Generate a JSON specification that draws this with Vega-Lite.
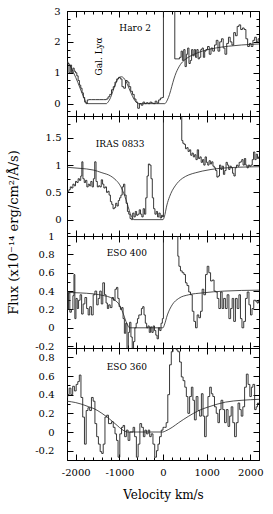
{
"$schema":"https://vega.github.io/schema/vega-lite/v6.json",
"padding":{"left":6,"top":5,"right":5,"bottom":5},
"background":"white",
"spacing":0,
"bounds":"flush",
"config":{"view":{"stroke":"black","strokeWidth":1},
"axis":{"grid":false,"domainColor":"black","tickColor":"black","labelColor":"black","labelFont":"DejaVu Serif","labelFontSize":10,"titleFont":"DejaVu Serif","titleFontSize":10,"titleFontWeight":"normal","titleColor":"black","labelOverlap":false,"labelFlush":false,"tickWidth":1,"domainWidth":1}},
"datasets":{
"p1":[{"v":-2200,"f":1.38},{"v":-2170,"f":1.3},{"v":-2140,"f":1.0},{"v":-2110,"f":1.25},{"v":-2080,"f":1.0},{"v":-2050,"f":1.15},{"v":-2020,"f":1.05},{"v":-1990,"f":1.0},{"v":-1960,"f":0.9},{"v":-1930,"f":0.75},{"v":-1900,"f":0.6},{"v":-1870,"f":0.5},{"v":-1840,"f":0.35},{"v":-1810,"f":0.2},{"v":-1780,"f":0.05},{"v":-1750,"f":0.0},{"v":-1720,"f":0.12},{"v":-1680,"f":0.13},{"v":-1600,"f":0.13},{"v":-1500,"f":0.13},{"v":-1400,"f":0.13},{"v":-1320,"f":0.13},{"v":-1280,"f":0.15},{"v":-1240,"f":0.22},{"v":-1200,"f":0.3},{"v":-1160,"f":0.45},{"v":-1120,"f":0.55},{"v":-1080,"f":0.7},{"v":-1040,"f":0.8},{"v":-1000,"f":0.85},{"v":-960,"f":0.8},{"v":-920,"f":0.55},{"v":-880,"f":0.5},{"v":-840,"f":0.75},{"v":-800,"f":0.7},{"v":-760,"f":0.55},{"v":-720,"f":0.4},{"v":-680,"f":0.3},{"v":-640,"f":0.15},{"v":-600,"f":0.05},{"v":-560,"f":-0.15},{"v":-520,"f":0.0},{"v":-480,"f":-0.05},{"v":-440,"f":0.05},{"v":-400,"f":0.0},{"v":-360,"f":0.03},{"v":-320,"f":0.0},{"v":-280,"f":0.05},{"v":-240,"f":0.02},{"v":-200,"f":0.0},{"v":-160,"f":0.08},{"v":-120,"f":0.02},{"v":-80,"f":0.12},{"v":-40,"f":0.18},{"v":0,"f":0.2},{"v":20,"f":3.6},{"v":260,"f":3.6},{"v":280,"f":1.45},{"v":320,"f":1.45},{"v":360,"f":1.45},{"v":400,"f":1.5},{"v":430,"f":1.7},{"v":460,"f":1.4},{"v":490,"f":1.75},{"v":520,"f":1.2},{"v":550,"f":1.6},{"v":580,"f":1.8},{"v":610,"f":1.3},{"v":640,"f":1.4},{"v":670,"f":1.75},{"v":700,"f":1.55},{"v":730,"f":1.75},{"v":760,"f":1.5},{"v":790,"f":1.75},{"v":820,"f":1.45},{"v":850,"f":1.5},{"v":880,"f":1.75},{"v":910,"f":1.8},{"v":940,"f":1.5},{"v":970,"f":1.7},{"v":1000,"f":1.75},{"v":1040,"f":1.85},{"v":1080,"f":1.6},{"v":1120,"f":1.8},{"v":1160,"f":1.7},{"v":1200,"f":1.9},{"v":1240,"f":2.05},{"v":1280,"f":1.7},{"v":1320,"f":2.0},{"v":1360,"f":2.1},{"v":1400,"f":1.8},{"v":1440,"f":1.6},{"v":1480,"f":1.95},{"v":1520,"f":2.15},{"v":1560,"f":2.0},{"v":1600,"f":1.9},{"v":1640,"f":2.3},{"v":1680,"f":2.2},{"v":1720,"f":2.5},{"v":1760,"f":2.55},{"v":1800,"f":2.4},{"v":1840,"f":2.45},{"v":1880,"f":2.4},{"v":1920,"f":2.1},{"v":1960,"f":1.85},{"v":2000,"f":1.95},{"v":2040,"f":1.85},{"v":2080,"f":2.05},{"v":2120,"f":2.15},{"v":2160,"f":2.0},{"v":2200,"f":2.1}],
"p1fit":[{"v":-2200,"f":1.37},{"v":-2150,"f":1.28},{"v":-2100,"f":1.15},{"v":-2050,"f":1.0},{"v":-2000,"f":0.85},{"v":-1950,"f":0.68},{"v":-1900,"f":0.5},{"v":-1850,"f":0.32},{"v":-1800,"f":0.15},{"v":-1760,"f":0.04},{"v":-1720,"f":0},{"v":-1300,"f":0},{"v":-1260,"f":0.05},{"v":-1200,"f":0.2},{"v":-1150,"f":0.4},{"v":-1100,"f":0.6},{"v":-1050,"f":0.76},{"v":-1000,"f":0.85},{"v":-950,"f":0.87},{"v":-900,"f":0.83},{"v":-850,"f":0.72},{"v":-800,"f":0.57},{"v":-750,"f":0.4},{"v":-700,"f":0.24},{"v":-650,"f":0.11},{"v":-600,"f":0.03},{"v":-560,"f":0},{"v":40,"f":0},{"v":100,"f":0.12},{"v":150,"f":0.3},{"v":200,"f":0.55},{"v":250,"f":0.8},{"v":300,"f":1.0},{"v":350,"f":1.15},{"v":400,"f":1.27},{"v":500,"f":1.42},{"v":600,"f":1.52},{"v":800,"f":1.65},{"v":1000,"f":1.74},{"v":1200,"f":1.8},{"v":1500,"f":1.86},{"v":1800,"f":1.9},{"v":2200,"f":1.93}],
"p2":[{"v":-2200,"f":0.5},{"v":-2170,"f":0.52},{"v":-2140,"f":0.55},{"v":-2110,"f":0.6},{"v":-2080,"f":0.58},{"v":-2050,"f":0.65},{"v":-2020,"f":0.62},{"v":-1990,"f":0.7},{"v":-1960,"f":0.68},{"v":-1930,"f":0.75},{"v":-1900,"f":0.72},{"v":-1870,"f":0.8},{"v":-1850,"f":1.06},{"v":-1820,"f":0.75},{"v":-1790,"f":0.68},{"v":-1760,"f":0.72},{"v":-1730,"f":0.6},{"v":-1700,"f":0.65},{"v":-1670,"f":0.62},{"v":-1640,"f":0.7},{"v":-1610,"f":0.6},{"v":-1580,"f":0.75},{"v":-1550,"f":1.06},{"v":-1520,"f":0.7},{"v":-1490,"f":0.6},{"v":-1460,"f":0.62},{"v":-1430,"f":0.6},{"v":-1400,"f":0.73},{"v":-1370,"f":0.65},{"v":-1340,"f":0.58},{"v":-1310,"f":0.6},{"v":-1280,"f":0.5},{"v":-1250,"f":0.52},{"v":-1220,"f":0.45},{"v":-1190,"f":0.33},{"v":-1160,"f":0.28},{"v":-1130,"f":0.2},{"v":-1100,"f":0.22},{"v":-1070,"f":0.3},{"v":-1040,"f":0.25},{"v":-1010,"f":0.35},{"v":-980,"f":0.4},{"v":-950,"f":0.45},{"v":-920,"f":0.6},{"v":-890,"f":0.65},{"v":-860,"f":0.45},{"v":-830,"f":0.3},{"v":-800,"f":0.15},{"v":-770,"f":0.1},{"v":-740,"f":0.02},{"v":-710,"f":0.0},{"v":-680,"f":0.12},{"v":-650,"f":0.05},{"v":-620,"f":0.15},{"v":-590,"f":0.08},{"v":-560,"f":0.1},{"v":-530,"f":0.18},{"v":-500,"f":0.1},{"v":-470,"f":0.05},{"v":-440,"f":0.2},{"v":-410,"f":0.1},{"v":-380,"f":0.4},{"v":-350,"f":0.8},{"v":-320,"f":1.02},{"v":-290,"f":1.0},{"v":-260,"f":0.75},{"v":-230,"f":0.4},{"v":-200,"f":0.2},{"v":-170,"f":0.1},{"v":-140,"f":0.15},{"v":-110,"f":0.05},{"v":-80,"f":0.12},{"v":-50,"f":0.03},{"v":-20,"f":0.08},{"v":0,"f":0.05},{"v":20,"f":2.5},{"v":420,"f":2.5},{"v":440,"f":1.45},{"v":470,"f":1.4},{"v":500,"f":1.38},{"v":530,"f":1.3},{"v":560,"f":1.32},{"v":590,"f":1.25},{"v":620,"f":1.28},{"v":650,"f":1.18},{"v":680,"f":1.22},{"v":710,"f":1.15},{"v":740,"f":1.19},{"v":770,"f":1.1},{"v":800,"f":1.28},{"v":830,"f":1.12},{"v":860,"f":1.15},{"v":890,"f":1.05},{"v":920,"f":1.1},{"v":950,"f":1.0},{"v":980,"f":1.15},{"v":1010,"f":1.05},{"v":1040,"f":1.0},{"v":1070,"f":1.08},{"v":1100,"f":1.02},{"v":1130,"f":1.06},{"v":1160,"f":0.98},{"v":1190,"f":0.95},{"v":1220,"f":0.9},{"v":1250,"f":0.78},{"v":1280,"f":0.8},{"v":1310,"f":1.0},{"v":1340,"f":0.92},{"v":1370,"f":0.98},{"v":1400,"f":0.83},{"v":1430,"f":0.9},{"v":1460,"f":1.05},{"v":1490,"f":1.0},{"v":1520,"f":0.92},{"v":1550,"f":0.98},{"v":1580,"f":0.95},{"v":1610,"f":0.85},{"v":1640,"f":0.8},{"v":1670,"f":0.95},{"v":1700,"f":1.0},{"v":1730,"f":0.98},{"v":1760,"f":1.05},{"v":1790,"f":1.06},{"v":1820,"f":1.1},{"v":1850,"f":1.0},{"v":1880,"f":1.12},{"v":1910,"f":1.0},{"v":1940,"f":0.95},{"v":1970,"f":1.0},{"v":2000,"f":0.98},{"v":2030,"f":1.0},{"v":2060,"f":1.1},{"v":2090,"f":1.24},{"v":2120,"f":1.1},{"v":2150,"f":1.2},{"v":2180,"f":1.12},{"v":2200,"f":1.15}],
"p2fit":[{"v":-2200,"f":0.96},{"v":-1900,"f":0.94},{"v":-1600,"f":0.91},{"v":-1400,"f":0.86},{"v":-1200,"f":0.8},{"v":-1100,"f":0.74},{"v":-1000,"f":0.65},{"v":-950,"f":0.58},{"v":-900,"f":0.48},{"v":-850,"f":0.37},{"v":-800,"f":0.24},{"v":-750,"f":0.11},{"v":-700,"f":0.03},{"v":-670,"f":0},{"v":0,"f":0},{"v":30,"f":0.05},{"v":90,"f":0.27},{"v":150,"f":0.42},{"v":210,"f":0.53},{"v":280,"f":0.62},{"v":360,"f":0.7},{"v":450,"f":0.76},{"v":590,"f":0.82},{"v":750,"f":0.86},{"v":900,"f":0.89},{"v":1100,"f":0.92},{"v":1300,"f":0.94},{"v":1700,"f":0.96},{"v":2200,"f":0.97}],
"p3":[{"v":-2200,"f":0.4},{"v":-2180,"f":0.2},{"v":-2150,"f":0.38},{"v":-2120,"f":0.17},{"v":-2080,"f":0.2},{"v":-2050,"f":0.35},{"v":-2030,"f":0.58},{"v":-2010,"f":0.1},{"v":-1980,"f":0.32},{"v":-1950,"f":0.21},{"v":-1920,"f":0.3},{"v":-1880,"f":0.36},{"v":-1850,"f":0.15},{"v":-1810,"f":0.26},{"v":-1770,"f":0.33},{"v":-1730,"f":0.21},{"v":-1700,"f":0.14},{"v":-1660,"f":0.23},{"v":-1620,"f":0.14},{"v":-1580,"f":0.36},{"v":-1540,"f":0.4},{"v":-1500,"f":0.25},{"v":-1470,"f":0.32},{"v":-1430,"f":0.4},{"v":-1400,"f":0.26},{"v":-1360,"f":0.49},{"v":-1320,"f":0.36},{"v":-1290,"f":0.27},{"v":-1260,"f":0.21},{"v":-1230,"f":0.25},{"v":-1190,"f":0.22},{"v":-1150,"f":0.33},{"v":-1120,"f":0.3},{"v":-1080,"f":0.42},{"v":-1050,"f":0.44},{"v":-1020,"f":0.32},{"v":-990,"f":0.23},{"v":-960,"f":0.2},{"v":-930,"f":0.22},{"v":-900,"f":0.1},{"v":-870,"f":-0.06},{"v":-840,"f":0.05},{"v":-810,"f":-0.3},{"v":-780,"f":-0.05},{"v":-750,"f":0.06},{"v":-720,"f":-0.1},{"v":-690,"f":-0.3},{"v":-660,"f":-0.15},{"v":-630,"f":0.0},{"v":-600,"f":0.05},{"v":-570,"f":0.1},{"v":-540,"f":0.14},{"v":-510,"f":0.14},{"v":-480,"f":0.21},{"v":-450,"f":0.23},{"v":-420,"f":0.14},{"v":-390,"f":0.05},{"v":-360,"f":0.0},{"v":-330,"f":0.02},{"v":-300,"f":-0.05},{"v":-270,"f":0.01},{"v":-240,"f":-0.05},{"v":-210,"f":0.02},{"v":-180,"f":-0.03},{"v":-150,"f":-0.08},{"v":-120,"f":-0.12},{"v":-90,"f":0.0},{"v":-60,"f":-0.03},{"v":-30,"f":0.05},{"v":0,"f":0.1},{"v":20,"f":1.2},{"v":330,"f":1.2},{"v":350,"f":0.78},{"v":380,"f":0.67},{"v":420,"f":0.62},{"v":460,"f":0.6},{"v":500,"f":0.58},{"v":530,"f":0.49},{"v":570,"f":0.46},{"v":610,"f":0.39},{"v":650,"f":0.36},{"v":690,"f":0.18},{"v":725,"f":0.07},{"v":765,"f":0.0},{"v":800,"f":0.14},{"v":840,"f":0.11},{"v":880,"f":0.18},{"v":915,"f":0.42},{"v":955,"f":0.36},{"v":995,"f":0.58},{"v":1030,"f":0.67},{"v":1070,"f":0.6},{"v":1110,"f":0.51},{"v":1150,"f":0.52},{"v":1190,"f":0.4},{"v":1225,"f":0.39},{"v":1260,"f":0.32},{"v":1300,"f":0.21},{"v":1340,"f":0.39},{"v":1370,"f":0.21},{"v":1410,"f":0.32},{"v":1450,"f":0.21},{"v":1490,"f":0.36},{"v":1530,"f":0.1},{"v":1570,"f":0.21},{"v":1600,"f":0.32},{"v":1640,"f":0.07},{"v":1680,"f":0.32},{"v":1720,"f":0.21},{"v":1760,"f":0.36},{"v":1790,"f":0.1},{"v":1830,"f":0.0},{"v":1870,"f":0.07},{"v":1910,"f":0.32},{"v":1950,"f":0.39},{"v":1990,"f":0.25},{"v":2020,"f":0.14},{"v":2060,"f":0.21},{"v":2100,"f":0.3},{"v":2140,"f":0.29},{"v":2170,"f":0.27},{"v":2200,"f":0.3}],
"p3fit":[{"v":-2200,"f":0.386},{"v":-1900,"f":0.38},{"v":-1600,"f":0.37},{"v":-1350,"f":0.35},{"v":-1200,"f":0.33},{"v":-1100,"f":0.3},{"v":-1000,"f":0.25},{"v":-950,"f":0.2},{"v":-900,"f":0.14},{"v":-850,"f":0.07},{"v":-800,"f":0.02},{"v":-770,"f":0},{"v":0,"f":0},{"v":30,"f":0.03},{"v":100,"f":0.14},{"v":210,"f":0.25},{"v":360,"f":0.32},{"v":590,"f":0.36},{"v":900,"f":0.38},{"v":1400,"f":0.4},{"v":2200,"f":0.41}],
"p4":[{"v":-2200,"f":0.37},{"v":-2170,"f":0.4},{"v":-2130,"f":0.47},{"v":-2090,"f":0.4},{"v":-2050,"f":0.49},{"v":-2010,"f":0.44},{"v":-1970,"f":0.51},{"v":-1935,"f":0.54},{"v":-1900,"f":0.61},{"v":-1860,"f":0.37},{"v":-1820,"f":0.16},{"v":-1780,"f":-0.13},{"v":-1740,"f":0.23},{"v":-1700,"f":0.26},{"v":-1660,"f":0.23},{"v":-1620,"f":0.37},{"v":-1580,"f":0.33},{"v":-1540,"f":0.09},{"v":-1500,"f":-0.05},{"v":-1460,"f":-0.13},{"v":-1420,"f":-0.21},{"v":-1390,"f":-0.23},{"v":-1350,"f":-0.13},{"v":-1310,"f":0.16},{"v":-1270,"f":0.18},{"v":-1230,"f":0.09},{"v":-1200,"f":0.09},{"v":-1160,"f":0.11},{"v":-1120,"f":0.05},{"v":-1080,"f":-0.02},{"v":-1050,"f":-0.09},{"v":-1010,"f":-0.27},{"v":-970,"f":-0.02},{"v":-930,"f":0.05},{"v":-900,"f":0.07},{"v":-860,"f":-0.05},{"v":-820,"f":0.02},{"v":-780,"f":-0.09},{"v":-740,"f":0.0},{"v":-700,"f":0.0},{"v":-670,"f":0.05},{"v":-630,"f":-0.05},{"v":-590,"f":-0.27},{"v":-550,"f":-0.13},{"v":-510,"f":0.09},{"v":-470,"f":0.05},{"v":-430,"f":-0.05},{"v":-400,"f":0.02},{"v":-360,"f":-0.02},{"v":-320,"f":0.02},{"v":-290,"f":-0.05},{"v":-250,"f":-0.02},{"v":-210,"f":-0.13},{"v":-170,"f":-0.27},{"v":-130,"f":-0.2},{"v":-100,"f":-0.13},{"v":-60,"f":-0.05},{"v":-20,"f":0.02},{"v":20,"f":0.05},{"v":55,"f":0.05},{"v":90,"f":0.1},{"v":130,"f":0.4},{"v":170,"f":0.72},{"v":210,"f":0.86},{"v":250,"f":0.92},{"v":290,"f":0.92},{"v":320,"f":0.88},{"v":360,"f":0.86},{"v":400,"f":0.75},{"v":440,"f":0.59},{"v":480,"f":0.55},{"v":520,"f":0.48},{"v":550,"f":0.38},{"v":590,"f":0.2},{"v":630,"f":0.38},{"v":670,"f":0.48},{"v":700,"f":0.34},{"v":740,"f":0.13},{"v":780,"f":0.38},{"v":820,"f":0.23},{"v":860,"f":0.17},{"v":900,"f":0.41},{"v":935,"f":0.17},{"v":970,"f":-0.05},{"v":1010,"f":0.17},{"v":1050,"f":0.38},{"v":1090,"f":0.48},{"v":1125,"f":0.41},{"v":1160,"f":0.38},{"v":1200,"f":0.27},{"v":1240,"f":0.2},{"v":1277,"f":0.1},{"v":1310,"f":0.24},{"v":1350,"f":0.34},{"v":1390,"f":0.24},{"v":1430,"f":0.1},{"v":1470,"f":0.24},{"v":1510,"f":0.06},{"v":1545,"f":0.17},{"v":1580,"f":0.27},{"v":1620,"f":0.1},{"v":1660,"f":-0.05},{"v":1700,"f":0.1},{"v":1740,"f":0.31},{"v":1775,"f":0.24},{"v":1810,"f":0.17},{"v":1850,"f":0.27},{"v":1890,"f":0.48},{"v":1930,"f":0.62},{"v":1970,"f":0.51},{"v":2010,"f":0.38},{"v":2040,"f":0.48},{"v":2080,"f":0.51},{"v":2120,"f":0.24},{"v":2150,"f":0.27},{"v":2180,"f":0.31},{"v":2200,"f":0.3}],
"p4fit":[{"v":-2200,"f":0.33},{"v":-2000,"f":0.315},{"v":-1880,"f":0.3},{"v":-1700,"f":0.27},{"v":-1580,"f":0.25},{"v":-1400,"f":0.2},{"v":-1280,"f":0.16},{"v":-1150,"f":0.11},{"v":-1050,"f":0.07},{"v":-950,"f":0.03},{"v":-880,"f":0.01},{"v":-820,"f":0},{"v":0,"f":0},{"v":55,"f":0.01},{"v":210,"f":0.05},{"v":360,"f":0.1},{"v":590,"f":0.17},{"v":820,"f":0.23},{"v":1050,"f":0.27},{"v":1430,"f":0.32},{"v":1810,"f":0.34},{"v":2200,"f":0.35}],
"l1":[{"v":-1000,"f":2.46,"t":"Haro 2"}],
"l1b":[{"v":-1463,"f":1.53,"t":"Gal. Lyα"}],
"l2":[{"v":-1540,"f":1.39,"t":"IRAS 0833"}],
"l3":[{"v":-1290,"f":0.81,"t":"ESO 400"}],
"l4":[{"v":-1290,"f":0.7,"t":"ESO 360"}]
},
"vconcat":[
{"width":192,"height":105,
 "layer":[
  {"data":{"name":"p1"},"mark":{"type":"line","interpolate":"step","clip":true,"color":"#222","strokeWidth":0.9},
   "encoding":{"x":{"field":"v","type":"quantitative","scale":{"domain":[-2200,2200],"nice":false},"axis":{"orient":"bottom","title":null,"labels":false,"values":[-2000,-1800,-1600,-1400,-1200,-1000,-800,-600,-400,-200,0,200,400,600,800,1000,1200,1400,1600,1800,2000],"tickSize":{"condition":{"test":"datum.value % 1000 === 0","value":-6},"value":-3}}},
   "y":{"field":"f","type":"quantitative","scale":{"domain":[-0.4,3],"nice":false,"zero":false},"axis":{"orient":"left","title":null,"values":[-0.25,0,0.25,0.5,0.75,1,1.25,1.5,1.75,2,2.25,2.5,2.75,3],"labelExpr":"datum.value % 1 === 0 ? '' + datum.value : ''","labelPadding":13,"tickSize":{"condition":{"test":"datum.value % 1 === 0","value":-6},"value":-3}}}}},
  {"data":{"name":"p1fit"},"mark":{"type":"line","interpolate":"monotone","clip":true,"color":"#222","strokeWidth":0.8},
   "encoding":{"x":{"field":"v","type":"quantitative","axis":{"orient":"top","title":null,"labels":false,"values":[-2000,-1800,-1600,-1400,-1200,-1000,-800,-600,-400,-200,0,200,400,600,800,1000,1200,1400,1600,1800,2000],"tickSize":{"condition":{"test":"datum.value % 1000 === 0","value":-6},"value":-3}}},
   "y":{"field":"f","type":"quantitative","axis":{"orient":"right","title":null,"labels":false,"values":[-0.25,0,0.25,0.5,0.75,1,1.25,1.5,1.75,2,2.25,2.5,2.75,3],"tickSize":{"condition":{"test":"datum.value % 1 === 0","value":-6},"value":-3}}}}},
  {"data":{"name":"l1"},"mark":{"type":"text","align":"left","baseline":"middle","font":"DejaVu Serif","fontSize":9,"color":"black"},
   "encoding":{"x":{"field":"v","type":"quantitative","axis":null},"y":{"field":"f","type":"quantitative","axis":null},"text":{"field":"t"}}},
  {"data":{"name":"l1b"},"mark":{"type":"text","align":"center","baseline":"middle","angle":270,"font":"DejaVu Serif","fontSize":9,"color":"black"},
   "encoding":{"x":{"field":"v","type":"quantitative","axis":null},"y":{"field":"f","type":"quantitative","axis":null},"text":{"field":"t"}}}
 ],
 "resolve":{"axis":{"x":"independent","y":"independent"}}},
{"width":192,"height":120,
 "layer":[
  {"data":{"name":"p2"},"mark":{"type":"line","interpolate":"step","clip":true,"color":"#222","strokeWidth":0.9},
   "encoding":{"x":{"field":"v","type":"quantitative","scale":{"domain":[-2200,2200],"nice":false},"axis":{"orient":"bottom","title":null,"labels":false,"values":[-2000,-1800,-1600,-1400,-1200,-1000,-800,-600,-400,-200,0,200,400,600,800,1000,1200,1400,1600,1800,2000],"tickSize":{"condition":{"test":"datum.value % 1000 === 0","value":-6},"value":-3}}},
   "y":{"field":"f","type":"quantitative","scale":{"domain":[-0.3,1.9],"nice":false,"zero":false},"axis":{"orient":"left","title":"Flux (x10⁻¹⁴ erg/cm²/Å/s)","titleFontSize":13,"titleX":-54,"titleY":116,"titleBaseline":"middle","titleAngle":270,"values":[-0.25,0,0.25,0.5,0.75,1,1.25,1.5,1.75],"labelExpr":"datum.value % 0.5 === 0 ? '' + datum.value : ''","labelPadding":12,"tickSize":{"condition":{"test":"datum.value % 0.5 === 0","value":-6},"value":-3}}}}},
  {"data":{"name":"p2fit"},"mark":{"type":"line","interpolate":"monotone","clip":true,"color":"#222","strokeWidth":0.8},
   "encoding":{"x":{"field":"v","type":"quantitative","axis":{"orient":"top","title":null,"labels":false,"values":[-2000,-1800,-1600,-1400,-1200,-1000,-800,-600,-400,-200,0,200,400,600,800,1000,1200,1400,1600,1800,2000],"tickSize":{"condition":{"test":"datum.value % 1000 === 0","value":-6},"value":-3}}},
   "y":{"field":"f","type":"quantitative","axis":{"orient":"right","title":null,"labels":false,"values":[-0.25,0,0.25,0.5,0.75,1,1.25,1.5,1.75],"tickSize":{"condition":{"test":"datum.value % 0.5 === 0","value":-6},"value":-3}}}}},
  {"data":{"name":"l2"},"mark":{"type":"text","align":"left","baseline":"middle","font":"DejaVu Serif","fontSize":9,"color":"black"},
   "encoding":{"x":{"field":"v","type":"quantitative","axis":null},"y":{"field":"f","type":"quantitative","axis":null},"text":{"field":"t"}}}
 ],
 "resolve":{"axis":{"x":"independent","y":"independent"}}},
{"width":192,"height":112,
 "layer":[
  {"data":{"name":"p3"},"mark":{"type":"line","interpolate":"step","clip":true,"color":"#222","strokeWidth":0.9},
   "encoding":{"x":{"field":"v","type":"quantitative","scale":{"domain":[-2200,2200],"nice":false},"axis":{"orient":"bottom","title":null,"labels":false,"values":[-2000,-1800,-1600,-1400,-1200,-1000,-800,-600,-400,-200,0,200,400,600,800,1000,1200,1400,1600,1800,2000],"tickSize":{"condition":{"test":"datum.value % 1000 === 0","value":-6},"value":-3}}},
   "y":{"field":"f","type":"quantitative","scale":{"domain":[-0.22,1.0],"nice":false,"zero":false},"axis":{"orient":"left","title":null,"values":[-0.2,-0.1,0,0.1,0.2,0.3,0.4,0.5,0.6,0.7,0.8,0.9,1],"labelExpr":"abs(datum.value*5 - round(datum.value*5)) < 0.001 ? '' + datum.value : ''","labelPadding":19,"tickSize":{"condition":{"test":"abs(datum.value*5 - round(datum.value*5)) < 0.001","value":-6},"value":-3}}}}},
  {"data":{"name":"p3fit"},"mark":{"type":"line","interpolate":"monotone","clip":true,"color":"#222","strokeWidth":0.8},
   "encoding":{"x":{"field":"v","type":"quantitative","axis":{"orient":"top","title":null,"labels":false,"values":[-2000,-1800,-1600,-1400,-1200,-1000,-800,-600,-400,-200,0,200,400,600,800,1000,1200,1400,1600,1800,2000],"tickSize":{"condition":{"test":"datum.value % 1000 === 0","value":-6},"value":-3}}},
   "y":{"field":"f","type":"quantitative","axis":{"orient":"right","title":null,"labels":false,"values":[-0.2,-0.1,0,0.1,0.2,0.3,0.4,0.5,0.6,0.7,0.8,0.9,1],"tickSize":{"condition":{"test":"abs(datum.value*5 - round(datum.value*5)) < 0.001","value":-6},"value":-3}}}}},
  {"data":{"name":"l3"},"mark":{"type":"text","align":"left","baseline":"middle","font":"DejaVu Serif","fontSize":9,"color":"black"},
   "encoding":{"x":{"field":"v","type":"quantitative","axis":null},"y":{"field":"f","type":"quantitative","axis":null},"text":{"field":"t"}}}
 ],
 "resolve":{"axis":{"x":"independent","y":"independent"}}},
{"width":192,"height":112,
 "layer":[
  {"data":{"name":"p4"},"mark":{"type":"line","interpolate":"step","clip":true,"color":"#222","strokeWidth":0.9},
   "encoding":{"x":{"field":"v","type":"quantitative","scale":{"domain":[-2200,2200],"nice":false},"axis":{"orient":"bottom","title":"Velocity km/s","titleFontSize":12,"titlePadding":9,"values":[-2000,-1800,-1600,-1400,-1200,-1000,-800,-600,-400,-200,0,200,400,600,800,1000,1200,1400,1600,1800,2000],"labelExpr":"datum.value % 1000 === 0 ? '' + datum.value : ''","labelPadding":13,"tickSize":{"condition":{"test":"datum.value % 1000 === 0","value":-6},"value":-3}}},
   "y":{"field":"f","type":"quantitative","scale":{"domain":[-0.3,0.9],"nice":false,"zero":false},"axis":{"orient":"left","title":null,"values":[-0.2,-0.1,0,0.1,0.2,0.3,0.4,0.5,0.6,0.7,0.8],"labelExpr":"abs(datum.value*5 - round(datum.value*5)) < 0.001 ? '' + datum.value : ''","labelPadding":19,"tickSize":{"condition":{"test":"abs(datum.value*5 - round(datum.value*5)) < 0.001","value":-6},"value":-3}}}}},
  {"data":{"name":"p4fit"},"mark":{"type":"line","interpolate":"monotone","clip":true,"color":"#222","strokeWidth":0.8},
   "encoding":{"x":{"field":"v","type":"quantitative","axis":{"orient":"top","title":null,"labels":false,"values":[-2000,-1800,-1600,-1400,-1200,-1000,-800,-600,-400,-200,0,200,400,600,800,1000,1200,1400,1600,1800,2000],"tickSize":{"condition":{"test":"datum.value % 1000 === 0","value":-6},"value":-3}}},
   "y":{"field":"f","type":"quantitative","axis":{"orient":"right","title":null,"labels":false,"values":[-0.2,-0.1,0,0.1,0.2,0.3,0.4,0.5,0.6,0.7,0.8],"tickSize":{"condition":{"test":"abs(datum.value*5 - round(datum.value*5)) < 0.001","value":-6},"value":-3}}}}},
  {"data":{"name":"l4"},"mark":{"type":"text","align":"left","baseline":"middle","font":"DejaVu Serif","fontSize":9,"color":"black"},
   "encoding":{"x":{"field":"v","type":"quantitative","axis":null},"y":{"field":"f","type":"quantitative","axis":null},"text":{"field":"t"}}}
 ],
 "resolve":{"axis":{"x":"independent","y":"independent"}}}
]
}
